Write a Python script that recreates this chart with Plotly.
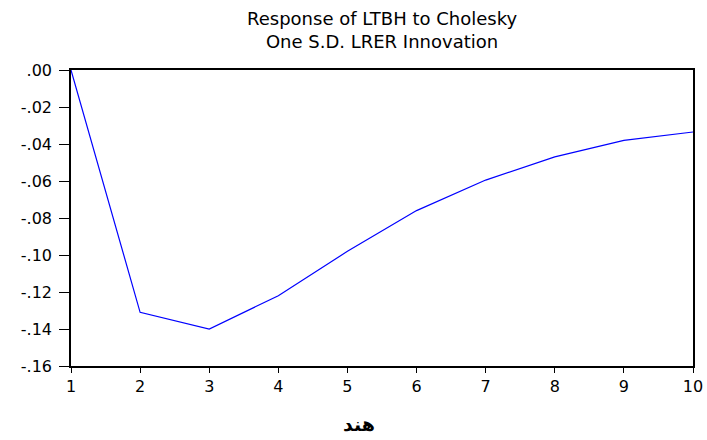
import plotly.graph_objects as go

periods = [1, 2, 3, 4, 5, 6, 7, 8, 9, 10]
response = [0.000, -0.131, -0.140, -0.122, -0.098, -0.076, -0.0595, -0.047, -0.038, -0.0335]
y_tick_vals = [0.00, -0.02, -0.04, -0.06, -0.08, -0.10, -0.12, -0.14, -0.16]
y_tick_text = [".00", "-.02", "-.04", "-.06", "-.08", "-.10", "-.12", "-.14", "-.16"]
x_tick_vals = periods
x_tick_text = [str(p) for p in periods]
title_lines = ["Response of LTBH to Cholesky", "One S.D. LRER Innovation"]
x_label = "هند"

font_family = "DejaVu Sans, Liberation Sans, Arial, sans-serif"

L, R, T, B = 71, 693, 70, 366
W, H = 707, 440

fig = go.Figure()
fig.add_trace(go.Scatter(
    x=periods, y=response, mode="lines",
    line=dict(color="#0000FF", width=1.2),
    showlegend=False, hoverinfo="skip",
))

def py(pix):
    return (B - pix) / (B - T)

def px(pix):
    return (pix - L) / (R - L)

annotations = [
    dict(text="<br>".join(title_lines), xref="paper", yref="paper", x=px(382), y=py(30),
         xanchor="center", yanchor="middle", showarrow=False, align="center",
         font=dict(family=font_family, size=18, color="black")),
    dict(text="<b>" + x_label + "</b>", xref="paper", yref="paper",
         x=px(359), y=py(424), xanchor="center", yanchor="middle",
         showarrow=False, font=dict(family="DejaVu Sans, Noto Sans, sans-serif", size=19, color="black")),
]

fig.update_layout(
    width=W, height=H,
    margin=dict(l=L, r=W - R, t=T, b=H - B, autoexpand=False),
    paper_bgcolor="white", plot_bgcolor="white",
    font=dict(family=font_family, color="black", size=14),
    xaxis=dict(
        range=[1, 10], tickmode="array", tickvals=x_tick_vals, ticktext=x_tick_text,
        ticks="outside", ticklen=5, tickwidth=1, tickcolor="black",
        showline=True, linecolor="black", linewidth=1.5, mirror=True,
        showgrid=False, zeroline=False, automargin=False,
        tickfont=dict(family=font_family, size=16, color="black"),
    ),
    yaxis=dict(
        range=[-0.16, 0.0], tickmode="array", tickvals=y_tick_vals, ticktext=y_tick_text,
        ticks="outside", ticklen=10, tickwidth=1, tickcolor="black",
        showline=True, linecolor="black", linewidth=1.5, mirror=True,
        showgrid=False, zeroline=False, automargin=False, ticklabelstandoff=4,
        tickfont=dict(family=font_family, size=16, color="black"),
    ),
    annotations=annotations,
)

fig.write_html("out.html", config={"displayModeBar": False},
               post_script="document.body.style.margin='0';document.body.style.padding='0';")
